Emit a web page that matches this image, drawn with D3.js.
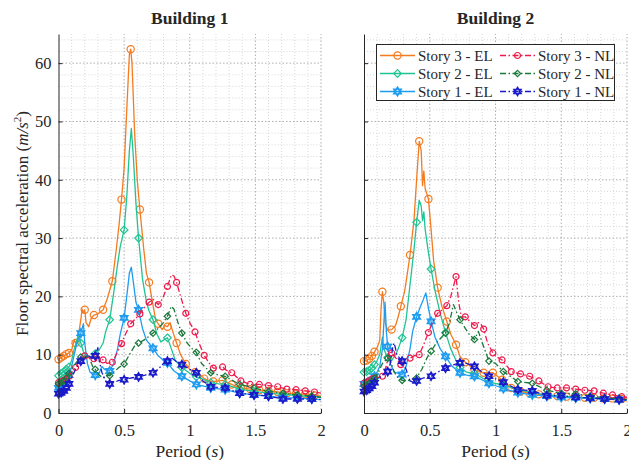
<!DOCTYPE html>
<html><head><meta charset="utf-8">
<script src="https://cdn.jsdelivr.net/npm/d3@7"></script>
<style>
body{margin:0;background:#fff}
svg{display:block}
text{font-family:"Liberation Serif","Times New Roman",serif;fill:#262626}
</style>
</head><body>
<svg id="chart" width="629" height="460"></svg>
<script>
// Floor spectral acceleration vs period, two buildings, elastic (EL) and nonlinear (NL) analyses.
// Each point: [period (s), acceleration (m/s^2), marker flag]
const buildingTitles = ["Building 1", "Building 2"];
const seriesNames = ["Story 3 - EL", "Story 2 - EL", "Story 1 - EL", "Story 3 - NL", "Story 2 - NL", "Story 1 - NL"];
const periodTicks = [0, 0.5, 1, 1.5, 2];
const periodTickLabels = ["0", "0.5", "1", "1.5", "2"];
const accelTicks = [0, 10, 20, 30, 40, 50, 60];

const b1Story3EL = [[0,9.2,1],[0.02,9.5,1],[0.04,9.8,1],[0.06,10.1,1],[0.08,10.3,1],[0.1,10.8],[0.12,12.5],[0.13,12.0,1],[0.15,13],[0.17,16],[0.18,17.8],[0.19,17.2],[0.20,17.7,1],[0.21,15.5],[0.23,14.8],[0.25,16.3],[0.27,16.8,1],[0.30,17.0],[0.34,17.7,1],[0.37,19.5],[0.41,22.6,1],[0.44,28],[0.46,32],[0.48,36.6,1],[0.50,42],[0.52,52],[0.54,61.5],[0.55,62.4,1],[0.56,60],[0.58,48],[0.60,40],[0.62,34.9,1],[0.65,28],[0.67,24],[0.69,22.4,1],[0.72,18.5],[0.74,16],[0.76,15.3,1],[0.79,14.3],[0.81,15],[0.83,14.8,1],[0.85,15.5],[0.87,14],[0.90,12.0,1],[0.93,10],[0.97,8.4,1],[1.0,7.5],[1.04,7.0,1],[1.08,6.5],[1.11,5.9,1],[1.15,5.5],[1.18,5.4,1],[1.22,5.5],[1.25,5.6,1],[1.28,5.3],[1.32,4.9,1],[1.36,4.5],[1.39,4.3,1],[1.46,4.1,1],[1.53,3.9,1],[1.60,3.8,1],[1.67,3.6,1],[1.74,3.4,1],[1.81,3.3,1],[1.88,3.2,1],[1.95,3.0,1],[2.0,2.9]];
const b1Story2EL = [[0,6.4,1],[0.02,6.8,1],[0.04,7.1,1],[0.06,7.5,1],[0.08,7.9,1],[0.1,9],[0.12,11],[0.14,12.5],[0.15,13.5],[0.17,12.0,1],[0.19,10.5],[0.21,9.8],[0.24,9.5],[0.28,10.2,1],[0.31,10.8],[0.34,12],[0.36,14],[0.39,16.0,1],[0.42,20.5],[0.45,25.5],[0.47,28.5],[0.50,31.4,1],[0.52,37],[0.54,45],[0.555,48.8],[0.57,44],[0.59,36],[0.61,30.0,1],[0.64,23],[0.67,19],[0.69,17.5],[0.72,16.0,1],[0.75,13.5],[0.78,12.2],[0.80,12.5],[0.83,12.9,1],[0.86,11],[0.89,9],[0.94,7.8,1],[1.0,6.8],[1.05,6.2,1],[1.10,5.8],[1.16,5.2,1],[1.22,5.0],[1.27,4.9,1],[1.33,4.5],[1.38,4.1,1],[1.49,3.7,1],[1.60,3.4,1],[1.71,3.2,1],[1.82,3.0,1],[1.93,2.8,1],[2.0,2.7]];
const b1Story1EL = [[0,4.3,1],[0.02,4.6,1],[0.04,5.0,1],[0.06,5.6,1],[0.08,6.5,1],[0.1,8],[0.12,10],[0.14,12],[0.17,13.7,1],[0.19,15.3],[0.20,12],[0.22,8.5],[0.24,7],[0.28,6.5,1],[0.31,6.8],[0.33,8],[0.35,7.5],[0.39,7.2,1],[0.42,8.5],[0.45,11],[0.47,13.5],[0.50,16.3,1],[0.52,20],[0.54,24],[0.555,25],[0.57,22.5],[0.59,19],[0.61,17.7,1],[0.64,14.5],[0.67,12.5],[0.72,11.1,1],[0.76,9.8],[0.80,9],[0.83,8.6,1],[0.88,7.2],[0.94,6.3,1],[1.0,5.5],[1.05,4.9,1],[1.16,4.3,1],[1.27,4.0,1],[1.38,3.4,1],[1.49,3.1,1],[1.60,2.9,1],[1.71,2.6,1],[1.82,2.6,1],[1.93,2.4,1],[2.0,2.3]];
const b1Story3NL = [[0,5.2,1],[0.02,5.4,1],[0.04,5.6,1],[0.06,5.9,1],[0.08,6.3,1],[0.1,7],[0.13,7.8,1],[0.16,9],[0.20,9.8,1],[0.23,9.5],[0.27,9.3,1],[0.30,9.8],[0.34,9.1,1],[0.37,8.5],[0.41,8.7,1],[0.44,10],[0.48,11.9,1],[0.51,13.5],[0.55,15.3,1],[0.58,16],[0.62,17.0,1],[0.65,18],[0.69,19.0,1],[0.72,19.5],[0.76,18.6,1],[0.79,19.5],[0.83,21.7,1],[0.86,23.7],[0.88,23.5],[0.90,22.4,1],[0.93,20],[0.97,17.1,1],[1.0,15.5],[1.04,13.9,1],[1.07,12],[1.11,9.9,1],[1.15,8.5],[1.18,7.7,1],[1.21,7.7],[1.25,7.9,1],[1.28,7.3],[1.32,6.9,1],[1.39,5.5,1],[1.46,4.9,1],[1.53,4.9,1],[1.60,4.7,1],[1.67,4.5,1],[1.74,4.1,1],[1.81,4.0,1],[1.88,3.8,1],[1.95,3.6,1],[2.0,3.4]];
const b1Story2NL = [[0,5.0,1],[0.02,5.2,1],[0.04,5.5,1],[0.06,6,1],[0.08,6.8,1],[0.1,7.5],[0.13,8.5],[0.17,9.6,1],[0.20,9.5],[0.23,9.8],[0.26,8],[0.28,7.5,1],[0.31,6.5],[0.34,6.0],[0.36,6.5],[0.39,6.4,1],[0.42,7],[0.46,7.8],[0.50,8.4,1],[0.54,10],[0.58,11.5],[0.61,12.0,1],[0.65,12.5],[0.68,13],[0.72,13.7,1],[0.76,14.5],[0.80,15.5],[0.83,16.6,1],[0.86,18.3],[0.88,17.8],[0.91,15.5],[0.94,13.7,1],[0.98,12],[1.02,11],[1.05,10.4,1],[1.09,8.5],[1.16,6.9,1],[1.22,6.5],[1.27,6.3,1],[1.38,4.9,1],[1.49,4.3,1],[1.60,3.7,1],[1.71,3.4,1],[1.82,3.1,1],[1.93,2.9,1],[2.0,2.7]];
const b1Story1NL = [[0,3.3,1],[0.02,3.5,1],[0.04,3.8,1],[0.06,4.3,1],[0.08,5,1],[0.1,6],[0.13,7.5],[0.17,8.9,1],[0.20,9.5],[0.23,9.8],[0.25,9.5],[0.28,9.8,1],[0.30,11.2],[0.31,9],[0.33,7],[0.36,5.5],[0.39,5.0,1],[0.42,5.2],[0.46,5.6],[0.50,5.7,1],[0.55,6],[0.61,6.2,1],[0.66,6.5],[0.72,6.9,1],[0.76,7.5],[0.80,8.5],[0.83,8.9,1],[0.86,9.5],[0.90,8.8],[0.94,8.3,1],[1.0,7.5],[1.05,6.9,1],[1.10,5.5],[1.16,4.5,1],[1.27,4.3,1],[1.38,3.4,1],[1.49,3.1,1],[1.60,2.9,1],[1.71,2.4,1],[1.82,2.4,1],[1.93,2.4,1],[2.0,2.3]];

const b2Story3EL = [[0,8.9,1],[0.02,9.0,1],[0.04,9.3,1],[0.06,9.8,1],[0.08,10.5,1],[0.10,11.2],[0.12,12.5],[0.13,18],[0.14,20.8,1],[0.15,19],[0.16,15.5],[0.18,14.2],[0.21,14.3,1],[0.24,15],[0.26,16.5],[0.28,18.3,1],[0.31,21],[0.33,24],[0.35,27.1,1],[0.38,33],[0.40,40],[0.42,46.6,1],[0.435,45],[0.445,39],[0.455,41.5],[0.465,38.5],[0.49,36.7,1],[0.51,31.5],[0.53,26],[0.56,21.5,1],[0.59,18.5],[0.63,15.7,1],[0.66,13.5],[0.70,11.7,1],[0.73,9.7],[0.77,8.7,1],[0.80,8.2],[0.84,7.4,1],[0.91,6.9,1],[0.98,6.9,1],[1.05,5.7,1],[1.12,4.3,1],[1.19,3.7,1],[1.26,3.4,1],[1.33,3.2,1],[1.40,3.0,1],[1.47,2.9,1],[1.54,2.8,1],[1.61,2.7,1],[1.68,2.6,1],[1.75,2.6,1],[1.82,2.5,1],[1.89,2.5,1],[1.96,2.4,1],[2.0,2.4]];
const b2Story2EL = [[0,7.0,1],[0.02,7.1,1],[0.04,7.3,1],[0.06,7.7,1],[0.08,8.3,1],[0.10,9],[0.12,10],[0.14,13],[0.15,11],[0.18,9.5,1],[0.21,9],[0.24,10],[0.26,11],[0.29,12.9,1],[0.32,16],[0.35,22],[0.38,28],[0.40,32.7,1],[0.42,36.5],[0.435,35.5],[0.445,33],[0.455,34.5],[0.465,31.5],[0.49,27.5],[0.51,24.7,1],[0.54,21],[0.58,17],[0.62,13.8,1],[0.66,11],[0.70,9],[0.73,7.8,1],[0.78,7],[0.84,6.8,1],[0.90,6],[0.95,5.3,1],[1.06,4.8,1],[1.17,4.0,1],[1.28,3.5,1],[1.39,3.1,1],[1.50,2.9,1],[1.61,2.7,1],[1.72,2.6,1],[1.83,2.5,1],[1.94,2.4,1],[2.0,2.3]];
const b2Story1EL = [[0,5.0,1],[0.02,5.1,1],[0.04,5.3,1],[0.06,5.7,1],[0.08,6.3,1],[0.10,7],[0.12,8],[0.14,11],[0.16,19.0],[0.17,14],[0.18,11.4,1],[0.20,8.5],[0.23,7],[0.26,6.8],[0.29,6.6,1],[0.32,8],[0.35,11],[0.37,14],[0.40,16.5,1],[0.43,18.3],[0.45,19.4],[0.47,20.6],[0.49,18],[0.51,15.7,1],[0.54,13],[0.58,11],[0.62,9.7,1],[0.67,8],[0.73,6.9,1],[0.78,6.5],[0.84,6.3,1],[0.95,5.1,1],[1.06,4.2,1],[1.17,3.5,1],[1.28,3.1,1],[1.39,2.9,1],[1.50,2.7,1],[1.61,2.6,1],[1.72,2.5,1],[1.83,2.4,1],[1.94,2.3,1],[2.0,2.2]];
const b2Story3NL = [[0,5.1,1],[0.02,5.3,1],[0.04,5.5,1],[0.06,5.8,1],[0.08,6.0,1],[0.11,6.1],[0.14,6.3,1],[0.17,8],[0.19,10.5],[0.21,10.3,1],[0.24,9.5],[0.28,8.3,1],[0.31,8.8],[0.35,9.4,1],[0.38,9.8],[0.42,10.0,1],[0.45,11.5],[0.49,13.8,1],[0.52,15.5],[0.56,17.1,1],[0.60,17.8],[0.63,18.4,1],[0.66,20],[0.70,23.4,1],[0.72,19],[0.74,16.5],[0.77,16.5,1],[0.80,15.8],[0.84,15.0,1],[0.87,15.5],[0.89,15.2],[0.91,14.4,1],[0.94,12],[0.98,10.3,1],[1.02,9.5],[1.05,9.1,1],[1.12,7.1,1],[1.19,6.7,1],[1.26,6.3,1],[1.33,5.5,1],[1.40,4.5,1],[1.47,4.3,1],[1.54,4.3,1],[1.61,4.1,1],[1.68,3.9,1],[1.75,3.8,1],[1.82,3.4,1],[1.89,3.1,1],[1.96,2.8,1],[2.0,2.7]];
const b2Story2NL = [[0,4.6,1],[0.02,4.8,1],[0.04,5.1,1],[0.06,5.5,1],[0.08,6.0,1],[0.11,7],[0.14,8.5],[0.18,9.4,1],[0.20,9],[0.23,7],[0.26,6],[0.29,5.6,1],[0.33,5.5],[0.37,5.8],[0.40,6.0,1],[0.44,7.5],[0.48,9.5],[0.51,10.6,1],[0.55,12],[0.59,13],[0.62,13.7,1],[0.65,15.5],[0.68,18.6],[0.70,17.5],[0.73,16.0,1],[0.77,14.5],[0.80,13.5],[0.84,12.6,1],[0.87,14.0],[0.90,12],[0.95,8.9,1],[1.0,8.5],[1.06,7.1,1],[1.17,5.4,1],[1.28,5.1,1],[1.39,3.9,1],[1.50,3.4,1],[1.61,3.3,1],[1.72,2.9,1],[1.83,2.6,1],[1.94,2.4,1],[2.0,2.3]];
const b2Story1NL = [[0,3.7,1],[0.02,3.9,1],[0.04,4.2,1],[0.06,4.6,1],[0.08,5.2,1],[0.11,5.8],[0.14,6.5],[0.18,7.1,1],[0.20,8.5],[0.22,11.5],[0.23,12],[0.25,10],[0.29,8.9,1],[0.32,7.5],[0.35,5.5],[0.38,5.2],[0.40,5.5,1],[0.45,6],[0.51,6.3,1],[0.56,7],[0.62,7.7,1],[0.67,8.2],[0.73,8.6,1],[0.78,8.5],[0.84,8.0,1],[0.90,7],[0.95,6.3,1],[1.06,5.3,1],[1.17,4.0,1],[1.28,3.8,1],[1.39,3.0,1],[1.50,3.0,1],[1.61,2.7,1],[1.72,2.6,1],[1.83,2.4,1],[1.94,2.3,1],[2.0,2.2]];

const building1 = [b1Story3EL, b1Story2EL, b1Story1EL, b1Story3NL, b1Story2NL, b1Story1NL];
const building2 = [b2Story3EL, b2Story2EL, b2Story1EL, b2Story3NL, b2Story2NL, b2Story1NL];

// Styling per series (same order as seriesNames)
const seriesColors = ["#f47b20", "#20c494", "#1e9cf0", "#ee1a4c", "#19783a", "#1a1acb"];
const seriesDash = [null, null, null, "6,2.5,1.5,2.5", "6,2.5,1.5,2.5", "6,2.5,1.5,2.5"];

// Marker shapes; the size argument is used as a radius
const circleSym = {draw(c, r){ c.moveTo(r, 0); c.arc(0, 0, r, 0, 2 * Math.PI); c.closePath(); }};
const diamondSym = {draw(c, r){ c.moveTo(0, -r); c.lineTo(r, 0); c.lineTo(0, r); c.lineTo(-r, 0); c.closePath(); }};
const hexagramSym = {draw(c, r){
  const ri = r / Math.sqrt(3);
  for (let i = 0; i < 12; i++) {
    const a = -Math.PI / 2 + i * Math.PI / 6, rr = i % 2 ? ri : r;
    const px = rr * Math.cos(a), py = rr * Math.sin(a);
    i ? c.lineTo(px, py) : c.moveTo(px, py);
  }
  c.closePath();
}};
const seriesSymbols = [circleSym, diamondSym, hexagramSym, circleSym, diamondSym, hexagramSym];
const seriesSymbolSize = [3.6, 3.8, 3.9, 3.0, 3.2, 3.7];
const seriesMarkerStroke = [1.2, 1.2, 1.9, 1.2, 1.2, 1.9];

const FONT = '"Liberation Serif","Times New Roman",serif';
const svg = d3.select("#chart");
const y = d3.scaleLinear().domain([0, 65]).range([413, 34]);
const panels = [
  {title: buildingTitles[0], data: building1, x: d3.scaleLinear().domain([0, 2]).range([58.5, 321]), yLabels: true},
  {title: buildingTitles[1], data: building2, x: d3.scaleLinear().domain([0, 2]).range([364, 627]), yLabels: false}
];

const minorX = d3.range(0, 2.0001, 0.1).map(v => +v.toFixed(2));
const minorY = d3.range(2, 65, 2);

panels.forEach(p => {
  const x = p.x;
  const g = svg.append("g");
  const [x0, x1] = x.range();
  const [yb, yt] = y.range();

  // minor grid
  const grid = g.append("g");
  grid.selectAll(".mx").data(minorX.filter(v => !periodTicks.includes(v) && v > 0)).enter().append("line")
    .attr("x1", d => x(d)).attr("x2", d => x(d)).attr("y1", yb).attr("y2", yt)
    .attr("stroke", "#cfcfcf").attr("stroke-width", 0.8).attr("stroke-dasharray", "1,2");
  grid.selectAll(".my").data(minorY.filter(v => v % 10 !== 0)).enter().append("line")
    .attr("y1", d => y(d)).attr("y2", d => y(d)).attr("x1", x0).attr("x2", x1)
    .attr("stroke", "#cfcfcf").attr("stroke-width", 0.8).attr("stroke-dasharray", "1,2");
  // major grid
  grid.selectAll(".Mx").data(periodTicks.filter(v => v > 0)).enter().append("line")
    .attr("x1", d => x(d)).attr("x2", d => x(d)).attr("y1", yb).attr("y2", yt)
    .attr("stroke", "#a5a5a5").attr("stroke-width", 0.9).attr("stroke-dasharray", "1.5,2");
  grid.selectAll(".My").data(accelTicks.filter(v => v > 0)).enter().append("line")
    .attr("y1", d => y(d)).attr("y2", d => y(d)).attr("x1", x0).attr("x2", x1)
    .attr("stroke", "#a5a5a5").attr("stroke-width", 0.9).attr("stroke-dasharray", "1.5,2");

  // series
  const line = d3.line().x(d => x(d[0])).y(d => y(d[1]));
  p.data.forEach((s, si) => {
    const sg = g.append("g");
    sg.append("path").datum(s).attr("d", line)
      .attr("fill", "none").attr("stroke", seriesColors[si]).attr("stroke-width", 1.3)
      .attr("stroke-linejoin", "round")
      .attr("stroke-dasharray", seriesDash[si]);
    sg.selectAll("path.m").data(s.filter(d => d[2])).enter().append("path")
      .attr("class", "m")
      .attr("transform", d => `translate(${x(d[0])},${y(d[1])})`)
      .attr("d", d3.symbol(seriesSymbols[si], seriesSymbolSize[si]))
      .attr("fill", "none").attr("stroke", seriesColors[si]).attr("stroke-width", seriesMarkerStroke[si]);
  });

  // axes with inward ticks
  const xAxis = d3.axisBottom(x).tickValues(periodTicks).tickFormat((d, i) => periodTickLabels[i])
    .tickSizeInner(-4).tickSizeOuter(0).tickPadding(11);
  const ax = g.append("g").attr("transform", `translate(0,${yb})`).call(xAxis);
  const yAxis = d3.axisLeft(y).tickValues(accelTicks).tickSizeInner(-4).tickSizeOuter(0).tickPadding(7)
    .tickFormat(d => p.yLabels ? d : "");
  const ay = g.append("g").attr("transform", `translate(${x0},0)`).call(yAxis);
  [ax, ay].forEach(a => {
    a.select(".domain").attr("stroke", "#262626").attr("stroke-width", 1);
    a.selectAll(".tick line").attr("stroke", "#262626");
    a.selectAll(".tick text").attr("font-size", 16.5).attr("fill", "#262626").attr("font-family", FONT);
  });

  // title
  svg.append("text").attr("x", (x0 + x1) / 2).attr("y", 24).attr("text-anchor", "middle")
    .attr("font-size", 17.5).attr("font-weight", "bold").attr("fill", "#000").text(p.title);

  // x axis label
  const xl = svg.append("text").attr("x", (x0 + x1) / 2).attr("y", 457).attr("text-anchor", "middle")
    .attr("font-size", 17.5);
  xl.append("tspan").text("Period (");
  xl.append("tspan").attr("font-style", "italic").text("s");
  xl.append("tspan").text(")");
});

// y axis label
const yl = svg.append("text").attr("transform", `translate(28,${(413 + 34) / 2}) rotate(-90)`)
  .attr("text-anchor", "middle").attr("font-size", 17);
yl.append("tspan").text("Floor spectral acceleration (");
yl.append("tspan").attr("font-style", "italic").text("m/s");
yl.append("tspan").attr("font-size", 11).attr("dy", -7).text("2");
yl.append("tspan").attr("dy", 7).text(")");

// legend in the second panel
const lg = svg.append("g");
lg.append("rect").attr("x", 376.5).attr("y", 44.5).attr("width", 238).attr("height", 56)
  .attr("fill", "#fff").attr("stroke", "#262626").attr("stroke-width", 1);
seriesNames.forEach((name, i) => {
  const col = i < 3 ? 0 : 1, row = i % 3;
  const lx = col === 0 ? 380 : 500, tx = col === 0 ? 418 : 538;
  const ly = 55.5 + row * 18;
  lg.append("line").attr("x1", lx).attr("x2", lx + 35).attr("y1", ly).attr("y2", ly)
    .attr("stroke", seriesColors[i]).attr("stroke-width", 1.3).attr("stroke-dasharray", seriesDash[i]);
  lg.append("path").attr("transform", `translate(${lx + 17.5},${ly})`)
    .attr("d", d3.symbol(seriesSymbols[i], seriesSymbolSize[i]))
    .attr("fill", "none").attr("stroke", seriesColors[i]).attr("stroke-width", seriesMarkerStroke[i]);
  lg.append("text").attr("x", tx).attr("y", ly + 5).attr("font-size", 15).text(name);
});
</script>
</body></html>
